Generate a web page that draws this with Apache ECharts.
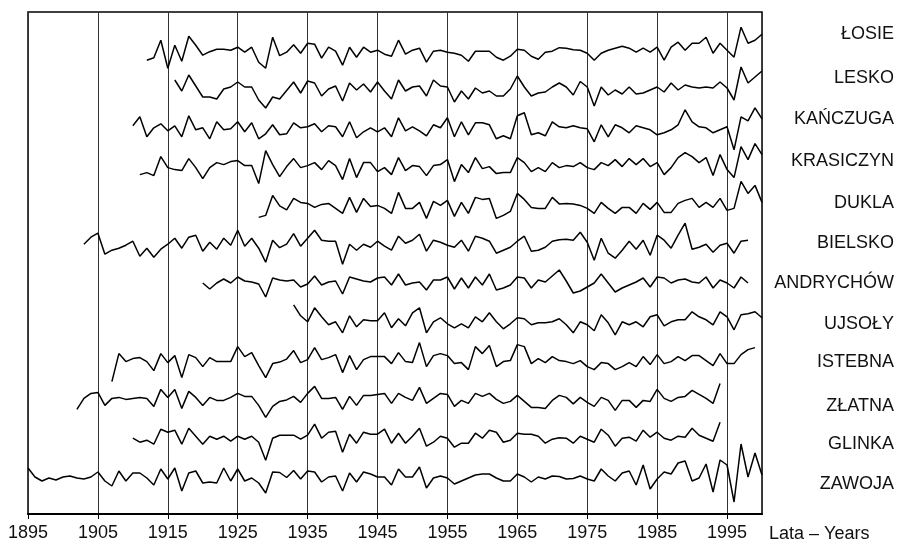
<!DOCTYPE html>
<html>
<head>
<meta charset="utf-8">
<script src="https://cdn.jsdelivr.net/npm/echarts@6/dist/echarts.min.js"></script>
<style>
  html, body { margin: 0; padding: 0; background: #fff; }
  #chart { width: 901px; height: 544px; }
</style>
</head>
<body>
<div id="chart"></div>
<script>
// stations from top to bottom
const stations = ['ŁOSIE', 'LESKO', 'KAŃCZUGA', 'KRASICZYN', 'DUKLA', 'BIELSKO',
  'ANDRYCHÓW', 'UJSOŁY', 'ISTEBNA', 'ZŁATNA', 'GLINKA', 'ZAWOJA'];
const startYears = [1912, 1916, 1910, 1911, 1928, 1903, 1920, 1933, 1907, 1902, 1910, 1895];
const yearTicks = [1895, 1905, 1915, 1925, 1935, 1945, 1955, 1965, 1975, 1985, 1995];

// tree-ring indices (%), one value per year from the start year
const losie = [80, 85, 120, 64, 110, 78, 128, 110, 90, 97,
  102, 102, 100, 106, 96, 106, 76, 64, 126, 89,
  96, 111, 94, 114, 112, 84, 106, 98, 70, 106,
  86, 106, 96, 100, 92, 88, 120, 92, 100, 104,
  76, 98, 100, 96, 94, 90, 78, 98, 98, 98,
  86, 80, 88, 102, 100, 88, 82, 96, 98, 105,
  104, 101, 100, 94, 80, 94, 100, 104, 108, 104,
  96, 104, 96, 106, 80, 106, 116, 100, 114, 114,
  126, 94, 114, 100, 86, 146, 114, 120, 132];
const lesko = [118, 96, 128, 106, 84, 84, 80, 100, 104, 114,
  104, 104, 78, 62, 84, 80, 97, 114, 92, 116,
  112, 86, 100, 106, 76, 112, 98, 110, 94, 114,
  96, 80, 118, 96, 104, 106, 86, 118, 106, 104,
  74, 96, 80, 102, 92, 96, 86, 86, 100, 126,
  104, 86, 92, 94, 104, 112, 104, 88, 115, 104,
  66, 104, 88, 98, 90, 104, 90, 92, 98, 104,
  94, 112, 98, 108, 104, 102, 104, 102, 114, 102,
  78, 144, 112, 124, 136];
const kanczuga = [104, 122, 82, 100, 108, 94, 104, 82, 124, 96,
  100, 78, 112, 96, 98, 112, 92, 110, 78, 88,
  106, 86, 88, 110, 100, 102, 108, 92, 104, 102,
  82, 112, 80, 92, 100, 92, 100, 82, 120, 94,
  102, 94, 84, 106, 100, 120, 82, 112, 86, 110,
  110, 106, 78, 84, 78, 124, 130, 86, 90, 84,
  112, 102, 100, 104, 100, 98, 72, 106, 82, 106,
  100, 90, 104, 100, 96, 86, 90, 96, 106, 136,
  112, 102, 100, 90, 96, 102, 56, 122, 114, 140,
  118];
const krasiczyn = [84, 88, 82, 120, 98, 94, 92, 116, 98, 76,
  98, 108, 104, 110, 112, 102, 102, 66, 132, 104,
  80, 100, 116, 98, 102, 108, 94, 112, 102, 74,
  116, 78, 108, 108, 90, 98, 84, 118, 92, 102,
  100, 82, 102, 104, 114, 70, 104, 88, 118, 96,
  100, 86, 88, 88, 118, 108, 90, 98, 90, 108,
  98, 102, 100, 108, 98, 94, 108, 102, 114, 100,
  116, 104, 116, 100, 108, 84, 98, 118, 128, 120,
  108, 118, 82, 124, 94, 78, 140, 114, 146, 124];
const dukla = [76, 80, 120, 99, 91, 114, 106, 104, 96, 102,
  104, 94, 84, 116, 86, 114, 98, 100, 94, 84,
  126, 94, 94, 106, 74, 108, 100, 110, 78, 106,
  84, 116, 112, 114, 74, 80, 88, 124, 112, 96,
  94, 94, 116, 103, 104, 103, 100, 94, 84, 106,
  94, 84, 96, 96, 84, 104, 92, 106, 86, 86,
  104, 110, 114, 96, 106, 96, 114, 90, 94, 148,
  124, 140, 106];
const bielsko = [100, 114, 122, 80, 88, 92, 98, 106, 76, 92,
  74, 90, 100, 112, 92, 114, 118, 86, 104, 90,
  112, 98, 128, 96, 112, 92, 64, 108, 93, 100,
  121, 96, 112, 128, 108, 106, 106, 60, 100, 88,
  100, 94, 106, 96, 88, 116, 102, 108, 120, 86,
  108, 104, 98, 94, 108, 86, 116, 112, 106, 82,
  88, 94, 106, 116, 86, 88, 94, 106, 109, 110,
  108, 124, 104, 68, 112, 82, 72, 88, 106, 90,
  108, 78, 118, 108, 92, 118, 142, 90, 94, 100,
  84, 98, 102, 82, 106, 108];
const andrychow = [100, 88, 100, 108, 100, 112, 104, 102, 98, 72,
  110, 106, 104, 106, 92, 98, 114, 96, 102, 104,
  78, 112, 108, 104, 102, 110, 112, 96, 118, 96,
  100, 102, 86, 106, 106, 112, 88, 110, 90, 112,
  96, 118, 86, 90, 96, 112, 110, 90, 106, 102,
  114, 126, 104, 80, 84, 92, 100, 118, 100, 82,
  90, 96, 102, 110, 92, 112, 110, 100, 106, 108,
  102, 100, 112, 90, 106, 100, 90, 112, 100];
const ujsoly = [134, 112, 100, 128, 110, 94, 100, 78, 112, 90,
  104, 102, 102, 118, 88, 106, 92, 118, 128, 78,
  100, 108, 96, 88, 96, 88, 110, 100, 118, 100,
  86, 96, 108, 106, 94, 98, 98, 100, 106, 94,
  78, 100, 94, 82, 114, 98, 74, 100, 94, 100,
  90, 110, 114, 92, 100, 104, 104, 120, 110, 104,
  94, 120, 110, 84, 114, 116, 120, 108];
const istebna = [58, 114, 98, 104, 106, 98, 80, 114, 96, 110,
  66, 112, 106, 88, 106, 98, 98, 98, 128, 108,
  116, 90, 66, 94, 97, 103, 120, 96, 102, 126,
  102, 106, 112, 76, 110, 82, 102, 108, 108, 108,
  94, 116, 98, 96, 136, 88, 110, 114, 110, 94,
  96, 82, 128, 114, 130, 88, 98, 100, 132, 128,
  94, 104, 96, 108, 100, 98, 94, 100, 88, 82,
  96, 94, 82, 88, 96, 88, 108, 92, 112, 94,
  98, 108, 100, 110, 110, 100, 90, 114, 94, 94,
  112, 122, 126];
const zlatna = [80, 102, 112, 114, 88, 102, 104, 100, 102, 104,
  102, 86, 120, 104, 120, 82, 116, 104, 88, 104,
  98, 98, 104, 112, 106, 106, 88, 64, 86, 96,
  99, 106, 94, 112, 126, 102, 102, 104, 80, 106,
  88, 108, 108, 110, 112, 92, 112, 104, 98, 124,
  92, 102, 112, 110, 86, 98, 92, 112, 106, 112,
  100, 92, 96, 108, 96, 84, 84, 82, 98, 108,
  104, 91, 104, 94, 86, 104, 98, 78, 98, 98,
  84, 98, 96, 120, 102, 96, 104, 106, 118, 110,
  102, 92, 132];
const glinka = [100, 92, 96, 88, 118, 112, 116, 88, 120, 104,
  88, 104, 98, 104, 94, 104, 98, 104, 92, 56,
  100, 106, 106, 106, 98, 106, 128, 100, 112, 114,
  72, 108, 90, 112, 108, 108, 118, 90, 110, 90,
  104, 120, 84, 92, 104, 100, 82, 90, 90, 110,
  100, 116, 112, 92, 96, 110, 108, 108, 104, 90,
  98, 101, 100, 90, 104, 98, 92, 118, 106, 84,
  100, 102, 94, 116, 102, 112, 100, 96, 104, 102,
  120, 106, 100, 94, 132];
const zawoja = [118, 100, 92, 98, 94, 100, 102, 98, 96, 100,
  110, 92, 82, 112, 92, 108, 108, 98, 84, 116,
  96, 118, 72, 108, 112, 88, 90, 88, 118, 92,
  116, 92, 98, 88, 68, 110, 109, 99, 113, 96,
  112, 110, 90, 100, 102, 72, 108, 90, 110, 106,
  100, 100, 84, 116, 100, 100, 120, 78, 98, 102,
  98, 86, 92, 98, 104, 106, 106, 98, 92, 92,
  106, 100, 90, 100, 96, 102, 101, 96, 97, 102,
  96, 92, 116, 102, 92, 108, 112, 84, 124, 76,
  96, 110, 106, 128, 132, 92, 98, 126, 70, 134,
  124, 50, 166, 100, 148, 104];

const allValues = [losie, lesko, kanczuga, krasiczyn, dukla, bielsko,
  andrychow, ujsoly, istebna, zlatna, glinka, zawoja];

const font = '"Liberation Sans", Arial, sans-serif';
const step = 77.6;   // vertical shift between neighbouring curves
const labelY = [34.5, 78.3, 119.2, 161.2, 203, 243.2, 283.2, 323.6, 361.7, 405.6, 444, 484.2];

var myChart = echarts.init(document.getElementById('chart'));

var series = allValues.map(function (vals, i) {
  var shift = (stations.length - 1 - i) * step;
  return {
    name: stations[i],
    type: 'line',
    showSymbol: false,
    symbol: 'none',
    silent: true,
    lineStyle: { color: '#000', width: 1.5 },
    data: vals.map(function (v, j) { return [startYears[i] + j, v + shift]; })
  };
});

function label(text, x, y, align) {
  return {
    type: 'text',
    x: x,
    y: y,
    silent: true,
    style: {
      text: text, align: align, verticalAlign: 'middle',
      fontSize: 18, fontWeight: 'normal', fontFamily: font,
      fill: '#111', lineWidth: 0
    }
  };
}

var option = {
  animation: false,
  backgroundColor: '#fff',
  grid: {
    left: 28, right: 139, top: 12, bottom: 30,
    show: true, borderColor: '#000', borderWidth: 1.5
  },
  xAxis: {
    type: 'value',
    min: 1895,
    max: 2000,
    interval: 10,
    axisLine: { show: true, lineStyle: { color: '#000', width: 2 } },
    axisTick: { show: true, length: 5, lineStyle: { color: '#000', width: 1 } },
    axisLabel: {
      showMaxLabel: false,
      margin: 10,
      color: '#111',
      fontSize: 18,
      fontFamily: font,
      formatter: function (v) { return yearTicks.indexOf(v) >= 0 ? String(v) : ''; }
    },
    splitLine: { show: true, lineStyle: { color: '#333', width: 1 } }
  },
  yAxis: {
    type: 'value',
    min: 26,
    max: 1030,
    show: false,
    splitLine: { show: false }
  },
  graphic: stations.map(function (name, i) {
    return label(name, 894, labelY[i], 'right');
  }).concat([label('Lata – Years', 769, 534.4, 'left')]),
  series: series
};
myChart.setOption(option);
</script>
</body>
</html>
